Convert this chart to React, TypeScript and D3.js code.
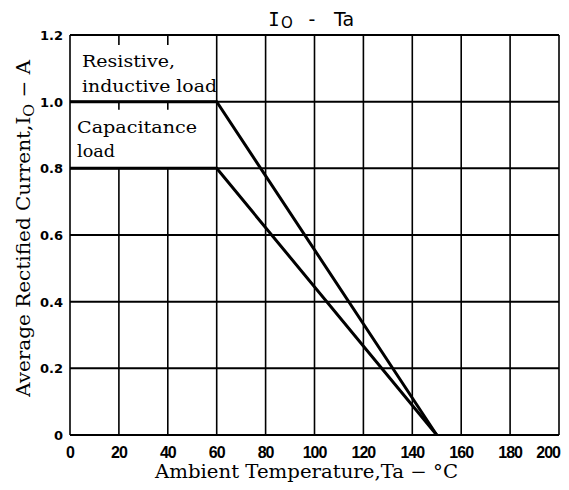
import { scaleLinear, line } from "d3";

const chartWidth = 569;
const chartHeight = 490;

// axis ticks
const tempTicks = [0, 20, 40, 60, 80, 100, 120, 140, 160, 180, 200];
const currentTicks = [0, 0.2, 0.4, 0.6, 0.8, 1.0, 1.2];
const currentTickLabels = ["0", "0.2", "0.4", "0.6", "0.8", "1.0", "1.2"];

// derating curves [Ta, Io]
const resistiveLoad: [number, number][] = [
  [0, 1.0],
  [60, 1.0],
  [150, 0],
];
const capacitiveLoad: [number, number][] = [
  [0, 0.8],
  [60, 0.8],
  [150, 0],
];

const x = scaleLinear().domain([0, 200]).range([70, 559]);
const y = scaleLinear().domain([0, 1.2]).range([435, 35]);

const curve = line<[number, number]>()
  .x((d) => x(d[0]))
  .y((d) => y(d[1]));

const serif = "'DejaVu Serif', 'Liberation Serif', serif";
const tickFont = "'DejaVu Sans', sans-serif";

export default function App() {
  // legend area hides the grid between 0..60 degC and 0.8..1.2 A
  const hiddenCols = [20, 40];
  const lastTick = tempTicks[tempTicks.length - 1];
  return (
    <svg
      width={chartWidth}
      height={chartHeight}
      style={{ position: "absolute", left: 0, top: 0, background: "white" }}
    >
      <rect width={chartWidth} height={chartHeight} fill="white" />

      {/* vertical grid */}
      {tempTicks.map((t) => (
        <line
          key={"v" + t}
          x1={x(t)}
          x2={x(t)}
          y1={hiddenCols.includes(t) ? y(0.8) : y(1.2)}
          y2={y(0)}
          stroke="black"
          strokeWidth={1.6}
        />
      ))}
      {/* stubs left inside the legend area */}
      {hiddenCols.map((t) => (
        <g key={"s" + t}>
          <line x1={x(t)} x2={x(t)} y1={y(1.2)} y2={y(1.2) + 10} stroke="black" strokeWidth={1.6} />
          <line x1={x(t)} x2={x(t)} y1={y(1.0)} y2={y(1.0) + 8} stroke="black" strokeWidth={1.6} />
        </g>
      ))}

      {/* horizontal grid */}
      {currentTicks.map((c) => (
        <line
          key={"h" + c}
          x1={x(0)}
          x2={x(200)}
          y1={y(c)}
          y2={y(c)}
          stroke="black"
          strokeWidth={2}
        />
      ))}

      {/* curves */}
      <path d={curve(resistiveLoad) ?? ""} fill="none" stroke="black" strokeWidth={3} />
      <path d={curve(capacitiveLoad) ?? ""} fill="none" stroke="black" strokeWidth={3} />

      {/* x tick labels */}
      {tempTicks.map((t) => (
        <text
          key={"xl" + t}
          x={t === lastTick ? x(t) + 1 : x(t)}
          y={458}
          textAnchor={t === lastTick ? "end" : "middle"}
          fontFamily="'Liberation Sans', sans-serif"
          fontWeight="bold"
          fontSize={16}
          letterSpacing={-1}
        >
          {t}
        </text>
      ))}

      {/* y tick labels */}
      {currentTicks.map((c, i) => (
        <text
          key={"yl" + c}
          x={63}
          y={y(c) + 5}
          textAnchor="end"
          fontFamily={tickFont}
          fontWeight="bold"
          fontSize={13}
        >
          {currentTickLabels[i]}
        </text>
      ))}

      {/* legend text */}
      <g fontFamily={serif} fontSize={17} fill="black">
        <text x={82} y={67} textLength={93} lengthAdjust="spacingAndGlyphs">Resistive,</text>
        <text x={82} y={92} textLength={135} lengthAdjust="spacingAndGlyphs">inductive load</text>
        <text x={77} y={133} textLength={120} lengthAdjust="spacingAndGlyphs">Capacitance</text>
        <text x={77} y={157} textLength={38} lengthAdjust="spacingAndGlyphs">load</text>
      </g>

      {/* title */}
      <g fontFamily="'DejaVu Sans', sans-serif" fontSize={19} fill="black">
        <text x={274} y={26} textAnchor="middle" fontFamily="'DejaVu Sans Mono', monospace">I</text>
        <text x={287} y={28} textAnchor="middle" fontSize={15}>O</text>
        <text x={312} y={26} textAnchor="middle">-</text>
        <text x={334} y={26}>Ta</text>
      </g>

      {/* axis titles */}
      <text
        x={155}
        y={478}
        fontFamily={serif}
        fontSize={18}
        textLength={303}
        lengthAdjust="spacingAndGlyphs"
      >
        Ambient Temperature,Ta − °C
      </text>
      <text
        transform="translate(30,397) rotate(-90)"
        fontFamily={serif}
        fontSize={18}
        textLength={337}
        lengthAdjust="spacingAndGlyphs"
      >
        Average Rectified Current,I
        <tspan fontSize={14} dy={4}>O</tspan>
        <tspan dy={-4}> − A</tspan>
      </text>
    </svg>
  );
}
